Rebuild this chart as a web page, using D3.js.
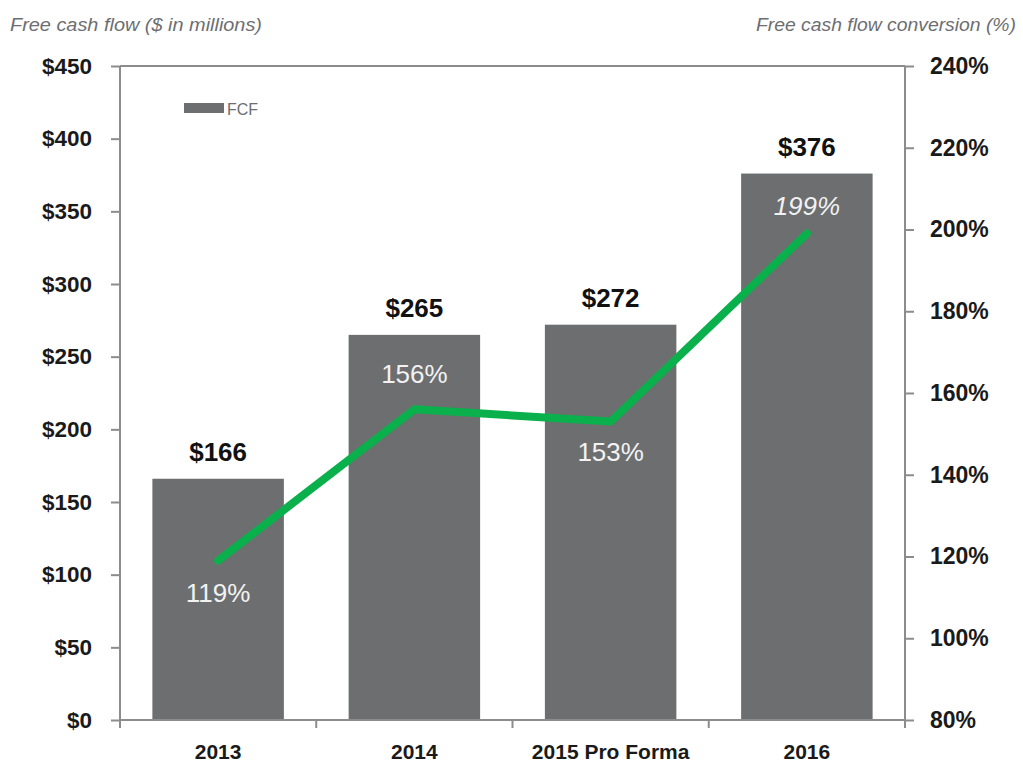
<!DOCTYPE html>
<html><head><meta charset="utf-8">
<script src="https://cdn.jsdelivr.net/npm/d3@7"></script>
<style>
body{margin:0;background:#fff;}
svg{display:block;}
</style></head>
<body>
<svg id="chart" width="1023" height="767"></svg>
<script>
const categories = ["2013", "2014", "2015 Pro Forma", "2016"];
const fcfValues = [166, 265, 272, 376];
const conversionValues = [119, 156, 153, 199];
const leftTicks = [0, 50, 100, 150, 200, 250, 300, 350, 400, 450];
const rightTicks = [80, 100, 120, 140, 160, 180, 200, 220, 240];
const barLabels = ["$166", "$265", "$272", "$376"];
const lineLabels = ["119%", "156%", "153%", "199%"];

const svg = d3.select("#chart");
const M = {left: 120, right: 905, top: 66, bottom: 720};
const sans = "'Liberation Sans',Arial,sans-serif";
const labelOffset = {"2013": 41, "2014": -26, "2015 Pro Forma": 39, "2016": -19};

const x = d3.scaleBand().domain(categories).range([M.left, M.right]).paddingInner(0.33).paddingOuter(0.165);
const xOuter = d3.scaleBand().domain(categories).range([M.left, M.right]);
const yL = d3.scaleLinear().domain([0, 450]).range([M.bottom, M.top]);
const yR = d3.scaleLinear().domain([80, 240]).range([M.bottom, M.top]);
const axisColor = "#8c8c8c";

// titles
svg.append("text").attr("x", 10).attr("y", 31).attr("font-family", sans).attr("font-style", "italic")
  .attr("font-size", 18).attr("fill", "#6d6e71").attr("textLength", 252).attr("lengthAdjust", "spacingAndGlyphs")
  .text("Free cash flow ($ in millions)");
svg.append("text").attr("x", 1016).attr("y", 31).attr("text-anchor", "end").attr("font-family", sans).attr("font-style", "italic")
  .attr("font-size", 18).attr("fill", "#6d6e71").attr("textLength", 260).attr("lengthAdjust", "spacingAndGlyphs")
  .text("Free cash flow conversion (%)");

// bars
svg.append("g").selectAll("rect").data(categories).join("rect")
  .attr("x", d => x(d)).attr("width", x.bandwidth())
  .attr("y", (d, i) => yL(fcfValues[i])).attr("height", (d, i) => yL(0) - yL(fcfValues[i]))
  .attr("fill", "#6d6e70");

// top frame line
svg.append("line").attr("x1", M.left).attr("x2", M.right).attr("y1", M.top).attr("y2", M.top)
  .attr("stroke", axisColor).attr("stroke-width", 2);

// left axis
const gL = svg.append("g").attr("transform", `translate(${M.left},0)`)
  .call(d3.axisLeft(yL).tickValues(leftTicks).tickFormat(d => "$" + d).tickSize(9).tickPadding(19));
// right axis
const gR = svg.append("g").attr("transform", `translate(${M.right},0)`)
  .call(d3.axisRight(yR).tickValues(rightTicks).tickFormat(d => d + "%").tickSize(9).tickPadding(16));
// bottom axis
const gB = svg.append("g").attr("transform", `translate(0,${M.bottom})`)
  .call(d3.axisBottom(xOuter).tickSize(0).tickPadding(24));
// bottom boundary ticks
const bounds = [M.left].concat(categories.map(c => xOuter(c) + xOuter.bandwidth()));
svg.append("g").selectAll("line").data(bounds).join("line")
  .attr("x1", d => d).attr("x2", d => d).attr("y1", M.bottom).attr("y2", M.bottom + 8)
  .attr("stroke", axisColor).attr("stroke-width", 2);

[gL, gR, gB].forEach(g => {
  g.select(".domain").attr("stroke", axisColor).attr("stroke-width", 2);
  g.selectAll(".tick line").attr("stroke", axisColor).attr("stroke-width", 2);
  g.selectAll(".tick text").attr("font-family", sans).attr("font-weight", "bold").attr("font-size", 22.5).attr("fill", "#1a1a1a");
});
gR.selectAll(".tick text").attr("font-size", 23);
gL.select(".domain").attr("d", `M0,${M.bottom}V${M.top}`);
gR.select(".domain").attr("d", `M0,${M.bottom}V${M.top}`);
gB.select(".domain").attr("d", `M${M.left},0H${M.right}`);
gB.selectAll(".tick text").attr("font-size", 21);

// legend
svg.append("rect").attr("x", 184).attr("y", 103).attr("width", 40).attr("height", 10).attr("fill", "#6d6e70");
svg.append("text").attr("x", 227).attr("y", 115).attr("font-family", sans).attr("font-size", 16).attr("fill", "#6d6e71").text("FCF");

// line
const cx = d => xOuter(d) + xOuter.bandwidth() / 2;
const line = d3.line().x((d, i) => cx(categories[i])).y(d => yR(d));
svg.append("path").datum(conversionValues).attr("d", line).attr("fill", "none")
  .attr("stroke", "#0ab04b").attr("stroke-width", 8).attr("stroke-linejoin", "round").attr("stroke-linecap", "round");

// bar labels
svg.append("g").selectAll("text").data(categories).join("text")
  .attr("x", d => cx(d)).attr("y", (d, i) => yL(fcfValues[i]) - 18)
  .attr("text-anchor", "middle").attr("font-family", sans).attr("font-weight", "bold").attr("font-size", 26).attr("fill", "#111")
  .text((d, i) => barLabels[i]);

// line labels
svg.append("g").selectAll("text").data(categories).join("text")
  .attr("x", d => cx(d)).attr("y", (d, i) => yR(conversionValues[i]) + labelOffset[d])
  .attr("text-anchor", "middle").attr("font-family", sans).attr("font-size", 26).attr("fill", "#f2f2f2")
  .attr("font-style", (d, i) => i === 3 ? "italic" : "normal")
  .text((d, i) => lineLabels[i]);
</script>
</body></html>
